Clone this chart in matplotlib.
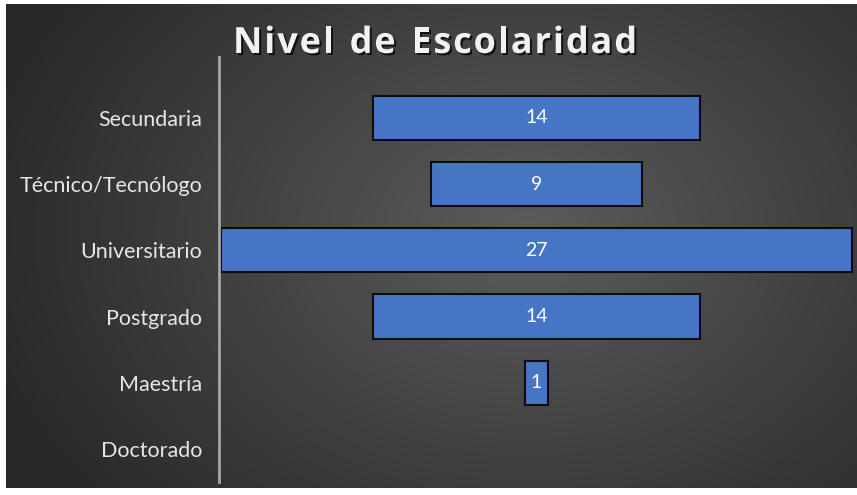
import numpy as np
import matplotlib
matplotlib.use('Agg')
import matplotlib.pyplot as plt
import matplotlib.patheffects as pe

plt.rcParams['font.family'] = ['Lato', 'DejaVu Sans']

categorias = ['Secundaria', 'Técnico/Tecnólogo', 'Universitario', 'Postgrado', 'Maestría', 'Doctorado']
valores = [14, 9, 27, 14, 1, 0]
titulo = 'Nivel de Escolaridad'

W, H = 857, 495
fig = plt.figure(figsize=(W / 100, H / 100), dpi=100)
fig.patch.set_facecolor('white')

# fondo oscuro con degradado radial
bg = fig.add_axes([6 / W, 7 / H, 851 / W, 484 / H])
yy, xx = np.mgrid[0:484, 0:851]
r = np.sqrt(((xx - 520) / 560.0) ** 2 + ((yy - 230) / 420.0) ** 2)
r = np.clip(r, 0, 1)
g = 0.36 - 0.20 * r
img = np.dstack([g, g, g])
bg.imshow(img, aspect='auto', extent=[0, 1, 0, 1])
bg.axis('off')

# titulo con espaciado entre letras
estilo = dict(fontsize=26, fontweight='bold', color='#f2f2f2', family=['Open Sans', 'DejaVu Sans'],
              path_effects=[pe.withSimplePatchShadow(offset=(1.5, -1.5), shadow_rgbFace='black', alpha=0.7)])
renderer = fig.canvas.get_renderer()
anchos_c = []
for c in titulo:
    t = fig.text(0, 0, c if c != ' ' else 'n', **estilo)
    w = t.get_window_extent(renderer).width
    anchos_c.append(w if c != ' ' else w * 0.5)
    t.remove()
ancho_total = 404.0
esp = (ancho_total - sum(anchos_c)) / (len(titulo) - 1)
x = 233.0
for c, w in zip(titulo, anchos_c):
    if c != ' ':
        fig.text(x / W, 1 - 44 / H, c, ha='left', va='center', **estilo)
    x += w + esp

# eje principal
ax = fig.add_axes([219 / W, 1 - 482 / H, (853 - 219) / W, (482 - 57) / H])
ax.set_facecolor('none')
maximo = max(valores)
izq = [(maximo - v) / 2 for v in valores]
y = np.arange(len(categorias))
anchos = [1.5 if v > 0 else 0 for v in valores]
ax.barh(y, valores, left=izq, height=0.67, color='#4775c6', edgecolor='#0d0d0d', linewidth=anchos)
for yi, v, l in zip(y, valores, izq):
    if v > 0:
        ax.text(l + v / 2, yi, str(v), ha='center', va='center', color='white', fontsize=14)

ax.set_xlim(-0.09, 27.05)
ax.set_ylim(5.5, -0.92)
ax.set_yticks(y)
ax.set_yticklabels(categorias, fontsize=15.5, color='#e6e6e6')
ax.tick_params(axis='y', length=0, pad=12)
ax.set_xticks([])
for s in ['top', 'right', 'bottom']:
    ax.spines[s].set_visible(False)
ax.spines['left'].set_color('#a6a6a6')
ax.spines['left'].set_linewidth(2)

fig.savefig('out.png', dpi=100, facecolor='white')
